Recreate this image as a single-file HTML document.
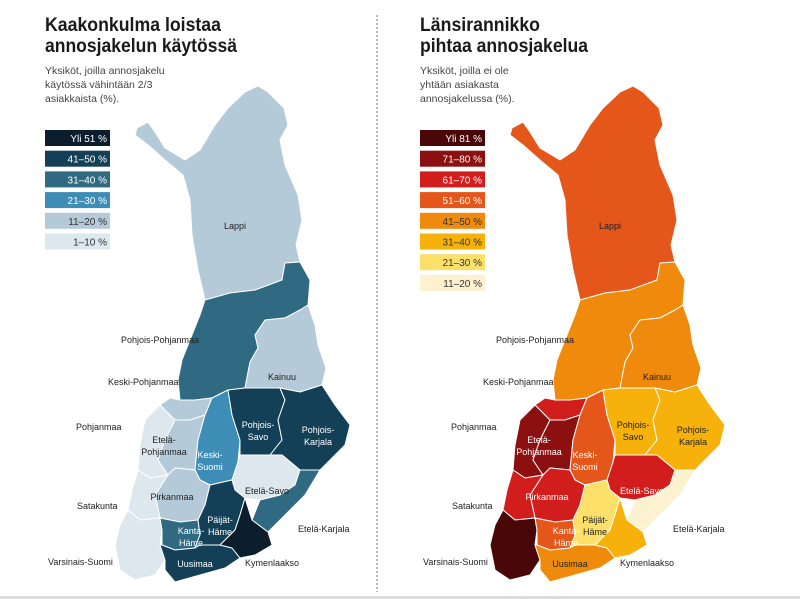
<!DOCTYPE html>
<html><head><meta charset="utf-8"><style>
body{margin:0;background:#fff;width:800px;height:599px;overflow:hidden;font-family:"Liberation Sans",sans-serif}
svg{position:absolute;left:0;top:0}
</style></head><body>
<svg id="s" width="800" height="599" xmlns="http://www.w3.org/2000/svg" font-family="Liberation Sans, sans-serif">
<line x1="377" y1="15" x2="377" y2="592" stroke="#777" stroke-dasharray="2,2" stroke-width="1"/>
<rect x="0" y="596" width="800" height="3" fill="#ddd"/>
<g font-weight="bold" font-size="19" fill="#1a1a1a">
<text x="45" y="31" textLength="176" lengthAdjust="spacingAndGlyphs">Kaakonkulma loistaa</text>
<text x="45" y="52" textLength="192" lengthAdjust="spacingAndGlyphs">annosjakelun käytössä</text>
<text x="420" y="31" textLength="120" lengthAdjust="spacingAndGlyphs">Länsirannikko</text>
<text x="420" y="52" textLength="168" lengthAdjust="spacingAndGlyphs">pihtaa annosjakelua</text>
</g>
<g font-size="10.5" fill="#444">
<text x="45" y="74">Yksiköt, joilla annosjakelu</text>
<text x="45" y="88">käytössä vähintään 2/3</text>
<text x="45" y="102">asiakkaista (%).</text>
<text x="420" y="74">Yksiköt, joilla ei ole</text>
<text x="420" y="88">yhtään asiakasta</text>
<text x="420" y="102">annosjakelussa (%).</text>
</g>
<g id="maps"></g>
</svg>
<script>
var R={
Lappi:[[137,128],[148,122],[155,132],[165,148],[185,160],[200,150],[215,125],[228,108],[245,92],[258,86],[268,92],[284,108],[288,125],[280,140],[285,165],[298,195],[302,220],[296,245],[300,262],[285,263],[282,280],[255,290],[230,293],[205,300],[198,270],[192,235],[190,200],[183,175],[165,160],[148,145],[135,135]],
PP:[[205,300],[230,293],[255,290],[282,280],[285,263],[300,262],[310,280],[308,305],[300,310],[285,318],[265,320],[255,335],[258,348],[250,362],[245,388],[228,390],[212,398],[195,400],[180,400],[178,380],[182,360],[192,335],[200,315]],
Kai:[[265,320],[285,318],[300,310],[308,305],[315,325],[318,345],[326,368],[322,385],[300,392],[280,388],[262,388],[245,388],[250,362],[258,348],[255,335]],
KP:[[180,400],[195,400],[212,398],[205,415],[190,420],[175,420],[160,405],[170,398]],
Poh:[[160,405],[175,420],[165,440],[158,460],[168,475],[150,478],[138,470],[140,445],[145,420]],
EP:[[175,420],[190,420],[205,415],[198,440],[195,470],[175,468],[168,475],[158,460],[165,440]],
KS:[[212,398],[228,390],[232,415],[240,440],[238,462],[232,480],[210,485],[200,480],[195,470],[198,440],[205,415]],
PS:[[228,390],[245,388],[262,388],[280,388],[285,400],[278,420],[282,440],[270,455],[240,455],[240,440],[232,415]],
PK:[[280,388],[300,392],[322,385],[335,405],[350,425],[345,445],[320,470],[300,470],[282,455],[270,455],[282,440],[278,420],[285,400]],
ES:[[240,455],[270,455],[282,455],[300,470],[295,485],[280,495],[260,500],[245,498],[235,490],[232,480],[238,462]],
EK:[[300,470],[320,470],[305,495],[285,515],[268,532],[252,520],[260,500],[280,495],[295,485]],
Pir:[[168,475],[175,468],[195,470],[200,480],[210,485],[205,505],[198,520],[180,522],[160,518],[155,495]],
Sat:[[138,470],[150,478],[168,475],[155,495],[160,518],[140,520],[128,510],[132,490]],
VS:[[128,510],[140,520],[160,518],[162,530],[160,545],[165,560],[155,575],[135,580],[120,570],[115,545],[120,525]],
KH:[[160,518],[180,522],[198,520],[200,535],[195,548],[175,550],[162,545],[162,530]],
PH:[[210,485],[232,480],[235,490],[245,498],[240,515],[235,530],[220,545],[200,545],[195,548],[200,535],[198,520],[205,505]],
Uus:[[160,545],[162,545],[175,550],[195,548],[200,545],[220,545],[232,548],[240,558],[225,568],[200,575],[175,582],[165,570],[165,560]],
Kym:[[235,530],[240,515],[245,498],[252,520],[268,532],[272,545],[255,555],[240,558],[232,548],[220,545]]
};
var B={a:"#0c1e2d",b:"#133f57",c:"#2f6a82",d:"#3d8db6",e:"#b5cad8",f:"#dde7ee"};
var O={a:"#4a0707",b:"#8c1010",c:"#d21d1d",d:"#e4561a",e:"#ef8a0c",f:"#f6b10a",g:"#fde06a",h:"#fdf2cf"};
var LF={Lappi:"e",PP:"c",Kai:"e",KP:"e",Poh:"f",EP:"e",KS:"d",PS:"b",PK:"b",ES:"f",EK:"c",Pir:"e",Sat:"f",VS:"f",KH:"c",PH:"b",Uus:"b",Kym:"a"};
var RF={Lappi:"d",PP:"e",Kai:"e",KP:"c",Poh:"b",EP:"b",KS:"d",PS:"f",PK:"f",ES:"c",EK:"h",Pir:"c",Sat:"c",VS:"a",KH:"d",PH:"g",Uus:"e",Kym:"f"};
var labels=[["Lappi",235,229,"m"],["Pohjois-Pohjanmaa",121,343,"s"],["Kainuu",282,380,"m"],["Keski-Pohjanmaa",108,385,"s"],["Pohjanmaa",76,430,"s"],["Etelä-|Pohjanmaa",164,443,"m"],["Pohjois-|Savo",258,428,"m"],["Pohjois-|Karjala",318,433,"m"],["Keski-|Suomi",210,458,"m"],["Pirkanmaa",172,500,"m"],["Etelä-Savo",267,494,"m"],["Satakunta",77,509,"s"],["Kanta-|Häme",191,534,"m"],["Päijät-|Häme",220,523,"m"],["Etelä-Karjala",298,532,"s"],["Varsinais-Suomi",48,565,"s"],["Uusimaa",195,567,"m"],["Kymenlaakso",245,566,"s"]];
var whiteL={L:{KS:1,PS:1,PK:1,KH:1,PH:1,Uus:1},R:{EP:1,KS:1,Pir:1,ES:1,KH:1}};
var g=document.getElementById("maps"),h="";
function map(dx,F,P,w){
 for(var k in R){h+='<polygon transform="translate('+dx+',0)" points="'+R[k].map(function(p){return p.join(",")}).join(" ")+'" fill="'+P[F[k]]+'" stroke="#fff" stroke-width="1" stroke-linejoin="round"/>';}
 var keys={"Lappi":"Lappi","Kainuu":"Kai","Etelä-|Pohjanmaa":"EP","Pohjois-|Savo":"PS","Pohjois-|Karjala":"PK","Keski-|Suomi":"KS","Pirkanmaa":"Pir","Etelä-Savo":"ES","Kanta-|Häme":"KH","Päijät-|Häme":"PH","Uusimaa":"Uus"};
 labels.forEach(function(l){
  var k=keys[l[0]],col=(k&&w[k])?"#fff":"#222";
  var parts=l[0].split("|"),anc=l[3]=="m"?"middle":"start";
  parts.forEach(function(t,i){h+='<text x="'+(l[1]+dx)+'" y="'+(l[2]+i*12)+'" font-size="9" fill="'+col+'" text-anchor="'+anc+'">'+t+'</text>';});
 });
}
map(0,LF,B,whiteL.L);map(375,RF,O,whiteL.R);
function leg(x,items){items.forEach(function(it,i){var y=130+i*20.7;h+='<rect x="'+x+'" y="'+y+'" width="65" height="16" fill="'+it[1]+'"/><text x="'+(x+62)+'" y="'+(y+12)+'" font-size="10" text-anchor="end" fill="'+it[2]+'">'+it[0]+'</text>';});}
leg(45,[["Yli 51 %",B.a,"#fff"],["41–50 %",B.b,"#fff"],["31–40 %",B.c,"#fff"],["21–30 %",B.d,"#fff"],["11–20 %",B.e,"#333"],["1–10 %",B.f,"#333"]]);
leg(420,[["Yli 81 %",O.a,"#fff"],["71–80 %",O.b,"#fff"],["61–70 %",O.c,"#fff"],["51–60 %",O.d,"#fff"],["41–50 %",O.e,"#333"],["31–40 %",O.f,"#333"],["21–30 %",O.g,"#333"],["11–20 %",O.h,"#333"]]);
g.innerHTML=h;
</script>
</body></html>
